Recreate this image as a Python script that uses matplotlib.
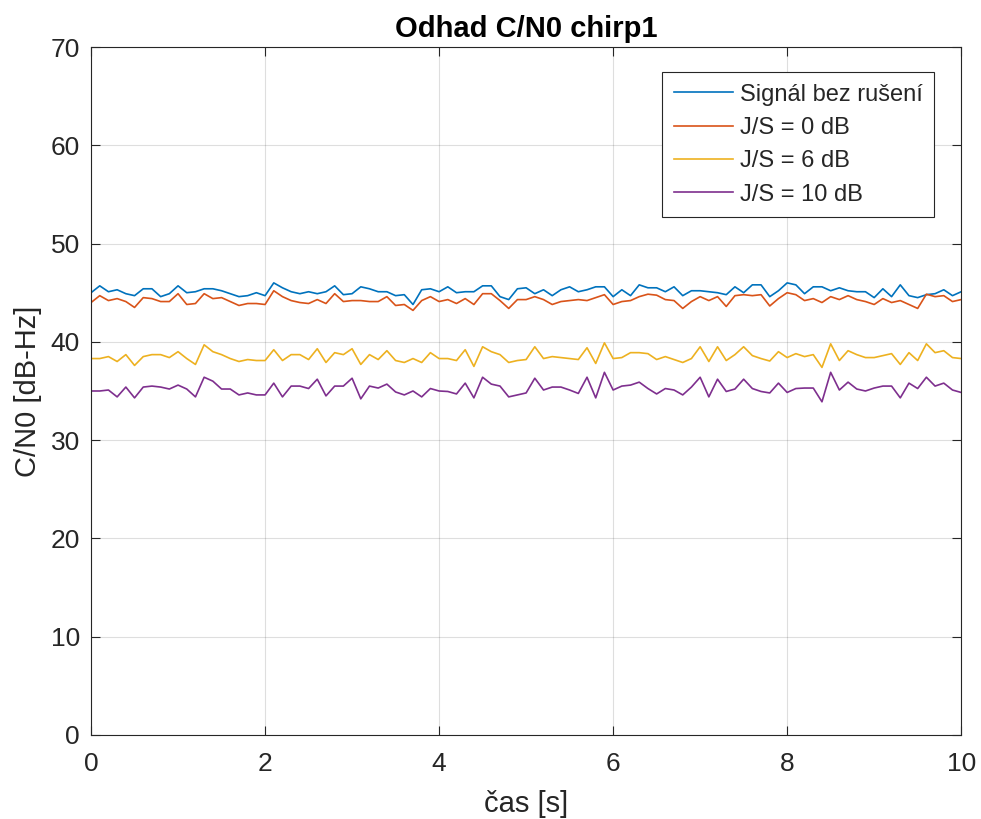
import matplotlib
matplotlib.use("Agg")
import matplotlib.pyplot as plt
import numpy as np

# time axis: 0 .. 10 s, step 0.1 s
t = np.linspace(0, 10, 101)

signal_clean = [
    45.0, 45.7, 45.1, 45.3, 44.9, 44.7, 45.4, 45.4, 44.6, 44.9, 45.7, 45.0, 45.1,
    45.4, 45.4, 45.2, 44.9, 44.6, 44.7, 45.0, 44.7, 46.0, 45.5, 45.1, 44.9, 45.1,
    44.9, 45.1, 45.7, 44.8, 44.9, 45.6, 45.4, 45.1, 45.1, 44.7, 44.8, 43.8, 45.3,
    45.4, 45.1, 45.6, 45.0, 45.1, 45.1, 45.7, 45.7, 44.6, 44.3, 45.4,
    45.5, 44.9, 45.3, 44.7, 45.3, 45.6, 45.1, 45.3, 45.6, 45.6, 44.6, 45.3, 44.7,
    45.8, 45.5, 45.5, 45.1, 45.6, 44.7, 45.2, 45.2, 45.1, 45.0, 44.8, 45.6,
    45.0, 45.8, 45.8, 44.6, 45.2, 46.0, 45.8, 44.9, 45.6, 45.6, 45.2, 45.5, 45.2,
    45.1, 45.1, 44.5, 45.4, 44.6, 45.8, 44.7, 44.5, 44.8, 44.9, 45.3, 44.7, 45.1,
]
js_0db = [
    44.0, 44.7, 44.2, 44.4, 44.1, 43.5, 44.5, 44.4, 44.1, 44.1, 44.9, 43.8, 43.9,
    44.9, 44.4, 44.5, 44.1, 43.7, 43.9, 43.9, 43.8, 45.2, 44.6, 44.2, 44.0, 43.9,
    44.3, 43.9, 44.9, 44.1, 44.2, 44.2, 44.1, 44.1, 44.6, 43.7, 43.8, 43.2, 44.2,
    44.6, 44.1, 44.3, 43.9, 44.4, 43.8, 44.9, 44.9, 44.2, 43.4, 44.3,
    44.3, 44.6, 44.3, 43.8, 44.1, 44.2, 44.3, 44.2, 44.5, 44.8, 43.8, 44.1, 44.2,
    44.6, 44.85, 44.75, 44.3, 44.2, 43.4, 44.1, 44.6, 44.2, 44.6, 43.6, 44.7,
    44.8, 44.7, 44.8, 43.65, 44.4, 45.0, 44.8, 44.2, 44.4, 44.0, 44.6, 44.3, 44.7,
    44.3, 44.1, 43.8, 44.4, 44.0, 44.2, 43.8, 43.4, 44.85, 44.6, 44.7, 44.1, 44.3,
]
js_6db = [
    38.3, 38.3, 38.5, 38.0, 38.7, 37.6, 38.5, 38.7, 38.7, 38.4, 39.0, 38.3, 37.7,
    39.7, 39.0, 38.7, 38.3, 38.0, 38.2, 38.1, 38.1, 39.2, 38.1, 38.7, 38.7, 38.2,
    39.3, 37.9, 38.9, 38.7, 39.3, 37.7, 38.7, 38.2, 39.1, 38.1, 37.9, 38.3, 37.9,
    38.9, 38.3, 38.3, 38.1, 39.2, 37.5, 39.5, 39.0, 38.7, 37.9, 38.1,
    38.2, 39.5, 38.3, 38.5, 38.4, 38.3, 38.2, 39.4, 37.8, 39.9, 38.3, 38.4, 38.9,
    38.9, 38.8, 38.2, 38.5, 38.2, 37.9, 38.3, 39.5, 38.0, 39.5, 38.1, 38.7,
    39.5, 38.6, 38.3, 38.05, 39.0, 38.4, 38.8, 38.5, 38.7, 37.4, 39.8, 38.1, 39.1,
    38.7, 38.4, 38.4, 38.6, 38.8, 37.7, 38.9, 38.1, 39.8, 38.9, 39.1, 38.4, 38.3,
]
js_10db = [
    35.0, 35.0, 35.1, 34.4, 35.4, 34.3, 35.4, 35.5, 35.4, 35.2, 35.6, 35.2, 34.4,
    36.4, 36.0, 35.2, 35.2, 34.6, 34.8, 34.6, 34.6, 35.8, 34.4, 35.5, 35.5, 35.25,
    36.2, 34.5, 35.5, 35.5, 36.3, 34.2, 35.5, 35.3, 35.7, 34.9, 34.6, 35.0, 34.4,
    35.25, 35.0, 34.95, 34.7, 35.8, 34.3, 36.4, 35.7, 35.5, 34.4, 34.6,
    34.8, 36.3, 35.1, 35.4, 35.4, 35.1, 34.75, 36.4, 34.3, 36.9, 35.1, 35.5, 35.6,
    35.9, 35.25, 34.7, 35.25, 35.1, 34.6, 35.4, 36.4, 34.4, 36.2, 34.95, 35.2,
    36.2, 35.25, 34.95, 34.8, 35.8, 34.85, 35.25, 35.3, 35.3, 33.9, 36.9, 35.1, 35.9,
    35.2, 35.0, 35.3, 35.5, 35.5, 34.3, 35.8, 35.25, 36.4, 35.5, 35.8, 35.1, 34.85,
]

labels = ["Signál bez rušení", "J/S = 0 dB", "J/S = 6 dB", "J/S = 10 dB"]
colors = ["#0072BD", "#D95319", "#EDB120", "#7E2F8E"]

plt.rcParams["font.family"] = ["Liberation Sans", "DejaVu Sans"]
dark = "#262626"

fig = plt.figure(figsize=(9.81, 8.19), dpi=100)
ax = fig.add_axes([0.0928, 0.1026, 0.887, 0.84])

for y, lab, c in zip([signal_clean, js_0db, js_6db, js_10db], labels, colors):
    ax.plot(t, y, color=c, lw=1.2, label=lab)

ax.set_xlim(0, 10)
ax.set_ylim(0, 70)
ax.set_xticks(range(0, 11, 2))
ax.set_yticks(range(0, 71, 10))
ax.grid(True, color=dark, alpha=0.15, lw=0.8)
ax.tick_params(direction="in", labelsize=19, colors=dark, length=6.5,
               top=True, right=True)
ax.tick_params(axis="x", pad=12)
ax.tick_params(axis="y", pad=8)
for s in ax.spines.values():
    s.set_color(dark)
    s.set_linewidth(0.8)

ax.set_title("Odhad C/N0 chirp1", fontsize=21, fontweight="bold", pad=7)
ax.set_xlabel("čas [s]", fontsize=21, color=dark, labelpad=10)
ax.set_ylabel("C/N0 [dB-Hz]", fontsize=21, color=dark, labelpad=6)

leg = ax.legend(loc="upper right", bbox_to_anchor=(0.969, 0.964), borderaxespad=0,
                fontsize=17, frameon=True, fancybox=False, framealpha=1,
                edgecolor=dark, handlelength=2.5, handletextpad=0.3,
                labelspacing=0.48, borderpad=0.5)
leg.get_frame().set_linewidth(0.8)
for txt in leg.get_texts():
    txt.set_color(dark)

fig.savefig("out.png", dpi=100)
